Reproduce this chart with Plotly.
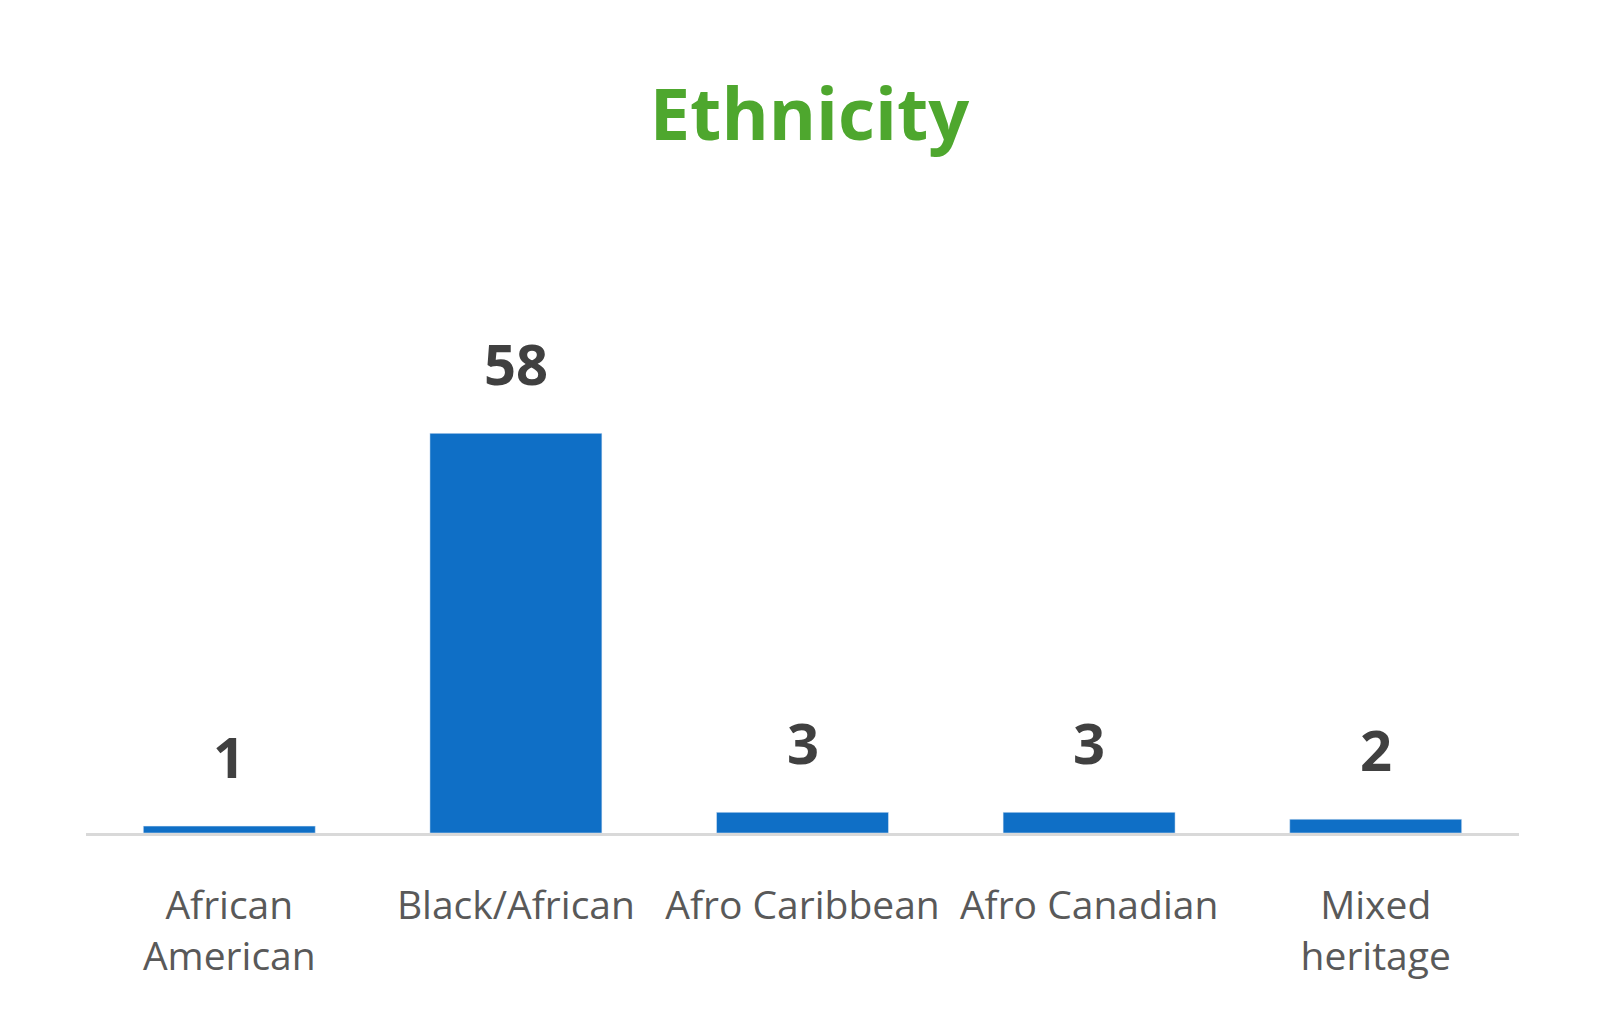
import plotly.graph_objects as go

categories = ["African<br>American", "Black/African", "Afro Caribbean", "Afro Canadian", "Mixed<br>heritage"]
values = [1, 58, 3, 3, 2]
labels = ["1", "58", "3", "3", "2"]

fig = go.Figure(go.Bar(
    x=categories, y=values,
    marker_color="#0F6FC6", width=0.6,
))
for c, v, t in zip(categories, values, labels):
    fig.add_annotation(x=c, y=v, text="<b>%s</b>" % t, showarrow=False,
                       yanchor="bottom", yshift=30,
                       font=dict(family="Open Sans", size=56, color="#404040"))
fig.update_layout(
    width=1603, height=1020,
    paper_bgcolor="white", plot_bgcolor="white",
    margin=dict(l=78, r=92, t=260, b=195),
    title=dict(text="<b>Ethnicity</b>", x=0.5, xanchor="center", y=0.895, yanchor="middle",
               font=dict(family="Open Sans", size=72, color="#4EA72E")),
    showlegend=False,
)
fig.update_xaxes(showline=True, linecolor="#D9D9D9", linewidth=3, ticks="",
                 tickfont=dict(family="Open Sans", size=39, color="#595959"),
                 ticklabelstandoff=36)
fig.update_yaxes(visible=False, range=[0, 82])
fig.write_html("out.html")
